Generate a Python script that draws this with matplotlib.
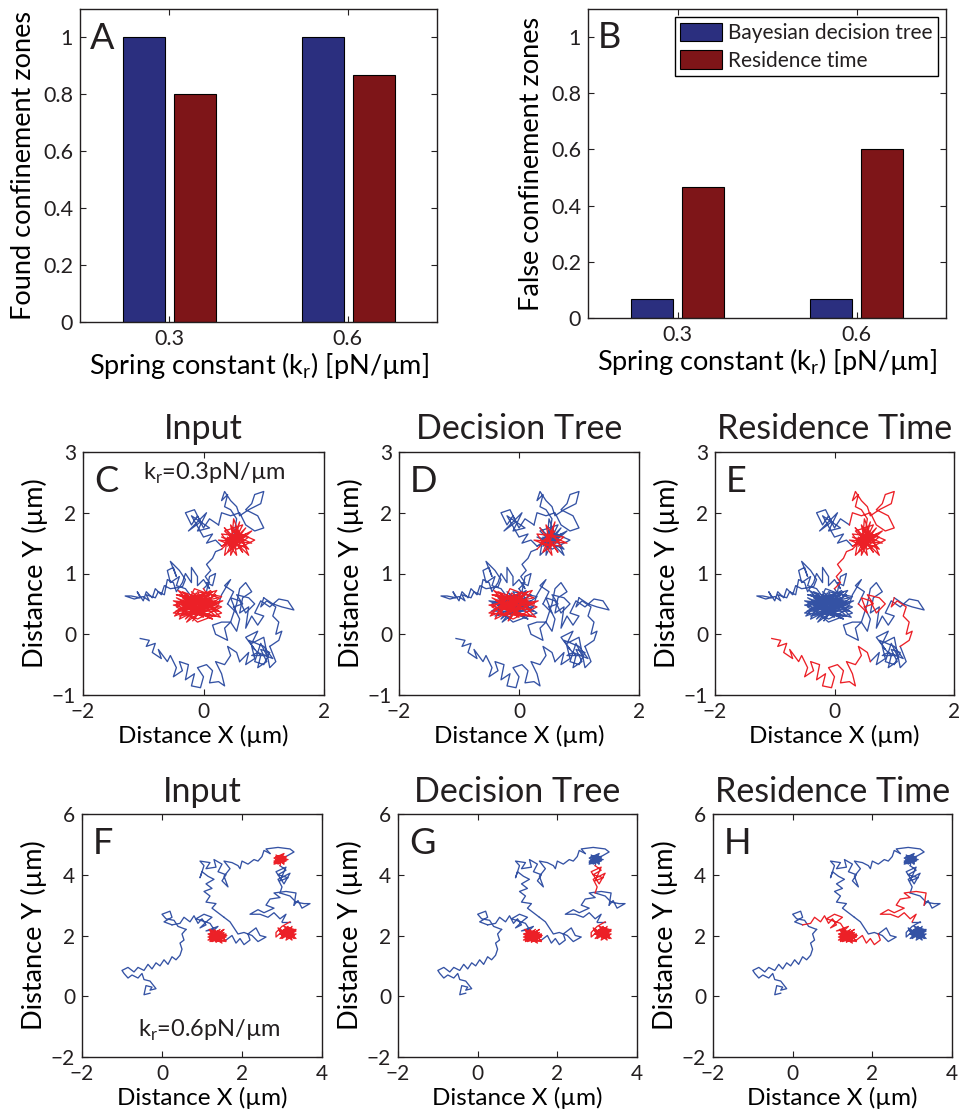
import matplotlib
matplotlib.use("Agg")
import matplotlib.pyplot as plt
import numpy as np

plt.rcParams['font.family'] = ['Lato', 'DejaVu Sans']
plt.rcParams['mathtext.fontset'] = 'custom'
plt.rcParams['mathtext.rm'] = 'Lato'
plt.rcParams['text.color'] = '#231f20'
plt.rcParams['axes.unicode_minus'] = True

# ---- bar data (panels A, B)
spring_labels = ["0.3", "0.6"]
found_tree = [1.0, 1.0]
found_resid = [0.8, 0.867]
false_tree = [0.067, 0.067]
false_resid = [0.467, 0.6]
bar_yticks = [0, 0.2, 0.4, 0.6, 0.8, 1.0]
bar_yticklabels = ["0", "0.2", "0.4", "0.6", "0.8", "1"]

# ---- trajectory, k_r = 0.3 pN/um (panels C, D, E)
w3_bottom = [(-1.05,-0.07),(-0.9,-0.1),(-0.95,-0.2),(-0.8,-0.15),(-0.85,-0.3),(-0.7,-0.4),
             (-0.75,-0.25),(-0.6,-0.45),(-0.55,-0.35),(-0.45,-0.55),(-0.5,-0.7),(-0.35,-0.6),
             (-0.4,-0.45),(-0.25,-0.5),(-0.3,-0.75),(-0.15,-0.65),(-0.2,-0.85),(-0.05,-0.88),
             (0.0,-0.7),(-0.1,-0.55),(0.05,-0.5),(0.15,-0.6),(0.1,-0.8),(0.25,-0.78),(0.35,-0.85),
             (0.3,-0.65),(0.2,-0.45),(0.35,-0.5),(0.45,-0.35),(0.4,-0.2),(0.55,-0.3),(0.6,-0.45)]
w3_lowright = [(0.75,-0.3),(0.7,-0.5),(0.85,-0.4),(0.8,-0.2),(0.95,-0.35),(0.9,-0.55),(1.05,-0.45),
               (0.95,-0.25),(1.1,-0.3),(1.0,-0.5),(0.85,-0.45),(0.95,-0.15),(1.05,-0.35),(0.8,-0.35),
               (0.9,-0.3),(1.15,-0.4),(1.0,-0.2),(0.75,-0.1),(0.85,-0.25),(0.7,-0.05),(0.9,0.05),
               (0.8,-0.15),(1.0,-0.05),(1.1,-0.55),(1.2,-0.45),(1.1,-0.2)]
w3_climb = [(1.25,-0.1),(1.3,0.05),(1.2,0.0),(1.25,0.2),(1.15,0.3),(1.2,0.45),(1.05,0.55),
            (0.95,0.45),(1.0,0.6)]
w3_right1 = [(1.15,0.5),(1.3,0.45),(1.5,0.4),(1.4,0.55),(1.25,0.58),(1.1,0.45),(0.95,0.55),
             (0.85,0.35),(1.0,0.3),(0.9,0.15),(0.8,0.3),(0.7,0.1),(0.75,0.45),(0.6,0.35),(0.65,0.6),
             (0.8,0.7),(0.7,0.85),(0.6,0.75),(0.55,0.5),(0.45,0.2),(0.35,0.1),(0.4,-0.1),(0.2,0.0),
             (0.15,0.15),(0.3,0.2),(0.45,0.2),(0.55,0.05),(0.6,0.25),(0.5,0.45)]
w3_right2 = [(0.65,0.5),(0.55,0.65),(0.75,0.6),(0.85,0.5),(0.7,0.35),(0.6,0.55),(0.45,0.6),
             (0.55,0.35),(0.4,0.5)]
w3_right3 = [(0.5,0.7),(0.35,0.8),(0.45,0.9),(0.3,0.65),(0.25,0.5)]
w3_mid1 = [(-0.1,0.6),(0.2,0.4),(-0.2,0.45),(0.1,0.65),(-0.3,0.55),(0.0,0.35),(-0.4,0.65),
           (0.15,0.55),(-0.25,0.3),(0.05,0.7),(-0.45,0.45),(-0.1,0.25),(0.3,0.45),(-0.35,0.7),
           (0.0,0.45),(-0.2,0.65),(0.2,0.3),(-0.5,0.35),(-0.05,0.6),(-0.3,0.4),(0.1,0.5),
           (-0.4,0.25),(-0.15,0.75),(0.25,0.6),(-0.25,0.5),(0.05,0.3),(-0.45,0.6),(-0.1,0.45),
           (0.15,0.7),(-0.35,0.35),(-0.48,0.3),(-0.2,0.6),(-0.42,0.72),(0.0,0.28),(-0.3,0.45),
           (0.32,0.55),(-0.05,0.38),(-0.38,0.55),(0.22,0.72),(-0.18,0.22),(0.08,0.58),
           (-0.5,0.48),(0.28,0.28),(-0.12,0.68),(-0.32,0.32),(0.18,0.48),(-0.45,0.65),
           (0.02,0.52),(-0.15,0.55)]
w3_tail = [(-0.3,0.75),(-0.45,0.8),(-0.4,0.95),(-0.55,0.85),(-0.6,1.05),(-0.5,1.1),(-0.45,0.95),
           (-0.55,1.2),(-0.4,1.05),(-0.3,0.9),(-0.35,0.78),(-0.55,0.75),(-0.65,0.8),(-0.7,0.65),
           (-0.8,0.75),(-0.85,0.6),(-0.95,0.7),(-1.0,0.55),(-1.1,0.7),(-1.05,0.6),(-1.2,0.63),
           (-1.3,0.63),(-1.15,0.58),(-1.0,0.62),(-0.9,0.55),(-0.95,0.65),(-0.8,0.6),(-0.75,0.7),
           (-0.65,0.65),(-0.6,0.9),(-0.5,0.85),(-0.45,0.7),(-0.35,0.85),(-0.3,1.0),(-0.2,0.85),
           (-0.2,1.1),(-0.1,0.95),(-0.1,0.8),(0.0,0.9),(0.1,0.75),(0.05,0.85),(0.15,0.8),
           (0.2,1.0),(0.1,0.95),(0.05,0.7)]
w3_mid2 = [(-0.3,0.5),(0.2,0.55),(-0.4,0.3),(0.1,0.4),(-0.2,0.7),(0.3,0.35),(-0.1,0.2),
           (-0.45,0.5),(0.0,0.65),(-0.3,0.25),(0.2,0.65),(-0.2,0.4),(0.15,0.25),(-0.5,0.55),
           (-0.05,0.5),(-0.35,0.6),(0.1,0.3),(-0.15,0.35),(0.25,0.45),(-0.25,0.6),(0.0,0.55),
           (-0.4,0.4),(0.05,0.45),(-0.1,0.7),(0.3,0.62),(-0.28,0.2),(0.12,0.72),(-0.46,0.38),
           (0.24,0.38),(-0.08,0.62),(-0.36,0.48),(0.1,0.6),(0.0,0.75)]
w3_connect = [(0.1,0.85),(0.03,0.95),(0.12,1.05),(0.05,1.15),(0.15,1.25),(0.2,1.36),(0.3,1.4)]
w3_top1 = [(0.6,1.7),(0.35,1.5),(0.7,1.45),(0.45,1.8),(0.55,1.3),(0.3,1.65),(0.75,1.6),
           (0.4,1.35),(0.6,1.85),(0.5,1.45),(0.25,1.55),(0.8,1.5),(0.45,1.65),(0.65,1.35),
           (0.35,1.75)]
w3_top2 = [(0.55,1.55),(0.7,1.75),(0.4,1.45),(0.6,1.6),(0.45,1.3),(0.5,1.9),(0.65,1.5),
           (0.3,1.6),(0.75,1.4),(0.5,1.7),(0.85,1.55),(0.55,1.4),(0.4,1.6),(0.35,1.3),
           (0.7,1.65),(0.3,1.45),(0.8,1.7),(0.45,1.4),(0.65,1.8),(0.35,1.7),(0.75,1.3),
           (0.55,1.75),(0.4,1.55),(0.7,1.55),(0.6,1.5),(0.5,1.6)]
w3_excursion = [(0.55,1.9),(0.45,2.05),(0.35,2.1),(0.4,2.3),(0.3,2.2),(0.35,2.35),(0.45,2.2),
                (0.55,2.1),(0.6,1.95),(0.75,2.05),(0.95,2.15),(1.0,2.35),(0.85,2.3),(0.8,2.15),
                (0.7,2.05),(0.9,1.95),(1.0,1.75),(0.85,1.7),(0.7,1.8),(0.6,2.0),(0.45,1.95),
                (0.3,2.0),(0.25,1.8)]
w3_upleft = [(0.1,1.9),(0.0,1.75),(-0.1,1.95),(-0.2,1.8),(-0.3,2.0),(-0.15,2.05),(-0.05,1.85),
             (-0.25,1.7),(0.05,2.0),(-0.1,1.7),(0.1,1.75),(-0.2,1.95),(0.0,1.6),(0.15,1.65),
             (0.05,1.5),(0.2,1.55),(0.3,1.45)]

walk03 = [("bottom", w3_bottom), ("lowright", w3_lowright), ("climb", w3_climb),
          ("right1", w3_right1), ("right2", w3_right2), ("right3", w3_right3),
          ("mid1", w3_mid1), ("tail", w3_tail), ("mid2", w3_mid2), ("connect", w3_connect),
          ("top1", w3_top1), ("top2", w3_top2), ("excursion", w3_excursion), ("upleft", w3_upleft)]
red_C = ["mid1", "mid2", "top1", "top2"]
red_D = ["mid1", "top1"]
red_E = ["bottom", "climb", "right2", "connect", "top1", "top2", "excursion"]

# ---- trajectory, k_r = 0.6 pN/um (panels F, G, H)
w6_start = [(-0.3,0.1),(-0.45,0.05),(-0.4,0.35),(-0.25,0.3),(-0.3,0.2),(-0.15,0.25),(-0.3,0.5),
            (-0.45,0.55),(-0.5,0.75),(-0.6,0.6),(-0.75,0.7),(-0.85,0.6),(-0.95,0.75),(-1.0,0.85),
            (-0.85,0.95),(-0.7,0.8),(-0.6,0.95),(-0.45,0.85),(-0.35,1.05),(-0.25,0.9),(-0.15,1.1),
            (-0.05,1.0),(0.05,1.2),(0.15,1.05),(0.25,1.3),(0.35,1.2),(0.45,1.35),(0.5,1.55),
            (0.45,1.75),(0.55,1.85),(0.5,2.05),(0.6,2.2)]
w6_blob1 = [(0.4,2.3),(0.3,2.5),(0.1,2.55),(0.0,2.7),(0.2,2.8),(0.25,2.6),(0.05,2.45),(0.25,2.35)]
w6_blob2 = [(0.45,2.4),(0.55,2.6),(0.7,2.45),(0.8,2.65),(0.9,2.4),(1.0,2.55),(1.1,2.35),
            (0.95,2.25),(1.15,2.5),(1.25,2.6),(1.05,2.7),(0.85,2.55),(1.2,2.4),(1.3,2.2),
            (1.1,2.15),(1.4,2.3),(1.2,2.05)]
w6_zone1 = [(1.5,1.85),(1.15,1.95),(1.55,2.1),(1.25,1.8),(1.6,1.95),(1.2,2.15),(1.45,1.8),
            (1.3,2.2),(1.55,1.9),(1.15,1.85),(1.5,2.15),(1.35,1.78),(1.6,2.05),(1.25,2.0),
            (1.45,2.2),(1.2,1.8),(1.5,2.0),(1.35,1.9),(1.3,1.95),(1.55,2.2),(1.2,1.9),
            (1.6,1.8),(1.4,2.15),(1.15,2.05),(1.5,1.75),(1.3,2.1),(1.62,2.0),(1.25,1.85),
            (1.45,2.05),(1.18,2.2),(1.55,1.95),(1.35,1.8),(1.6,1.85)]
w6_path1 = [(1.75,2.0),(1.85,1.75),(1.95,1.9),(2.05,1.7),(2.2,1.85),(2.15,2.05)]
w6_path2 = [(2.35,2.25),(2.45,2.0),(2.6,1.95),(2.4,1.8),(2.25,2.0),(2.05,2.1),(1.9,2.05),
            (1.8,2.25),(1.7,2.45),(1.55,2.6)]
w6_column = [(1.4,2.75),(1.25,2.9),(1.35,3.05),(1.1,3.1),(1.2,3.3),(1.05,3.45),(1.25,3.55),
             (1.1,3.7),(1.3,3.85),(1.15,3.95),(1.0,4.1),(0.95,3.9),(1.05,4.3),(0.95,4.45),
             (1.2,4.4),(1.1,4.2),(1.35,4.25),(1.3,4.5),(1.5,4.35),(1.4,4.1),(1.6,4.0),(1.5,3.8),
             (1.65,3.6),(1.55,3.95),(1.7,4.2),(1.55,4.45),(1.75,4.4),(1.9,4.3),(1.95,4.2),
             (2.0,4.45),(2.15,4.35),(2.3,4.5),(2.4,4.45),(2.5,4.6),(2.55,4.8),(2.7,4.7)]
w6_loop = [(2.6,4.85),(2.9,4.9),(3.2,4.85),(3.3,4.75),(3.1,4.6)]
w6_zone2 = [(2.85,4.6),(3.05,4.4),(2.8,4.45),(3.1,4.55),(2.9,4.35),(3.05,4.7),(2.8,4.55),
            (3.0,4.4),(3.1,4.6),(2.85,4.5),(3.0,4.65),(2.9,4.4),(3.05,4.5),(2.95,4.6),
            (2.8,4.35),(3.1,4.45),(2.85,4.65),(3.05,4.35),(2.9,4.55),(3.15,4.5),(2.8,4.4),
            (3.0,4.55),(2.95,4.3)]
w6_below = [(3.1,4.15),(2.9,4.0),(3.15,3.9),(2.95,3.8),(3.1,4.25),(2.85,4.1),(3.05,3.7),
            (3.2,4.05),(2.9,3.85),(3.0,3.6),(2.95,3.4)]
w6_right1 = [(3.2,3.3),(3.35,3.1),(3.55,3.05),(3.7,3.05),(3.5,2.9),(3.4,3.15),(3.3,3.0)]
w6_right2 = [(3.35,3.4),(3.1,3.45),(2.8,3.4),(2.95,3.25),(2.7,3.2),(2.6,3.0),(2.8,2.9),
             (2.55,2.75),(2.4,2.85),(2.2,2.7),(2.45,2.7),(2.65,2.6),(2.8,2.75),(2.95,2.55),
             (3.1,2.7),(3.0,2.45)]
w6_right3 = [(3.2,2.45)]
w6_zone3 = [(3.0,2.3),(2.85,2.1),(2.85,1.95),(3.1,2.25),(3.3,2.0),(2.95,2.15),(3.35,2.2),
            (3.0,1.9),(3.25,2.3),(3.1,1.85),(3.35,2.05),(2.95,2.05),(3.2,1.95),(3.05,2.2),
            (3.3,1.9),(3.15,2.15),(3.0,2.0),(2.9,2.25),(3.35,1.9),(3.05,2.3),(3.3,2.2),
            (2.95,1.9),(3.2,2.25),(3.1,1.95),(3.35,2.15),(3.0,2.1),(3.25,1.85),(3.15,2.3),
            (3.05,2.05),(3.25,2.1),(3.1,2.0)]

walk06 = [("start", w6_start), ("blob1", w6_blob1), ("blob2", w6_blob2), ("zone1", w6_zone1),
          ("path1", w6_path1), ("path2", w6_path2), ("column", w6_column), ("loop", w6_loop),
          ("zone2", w6_zone2), ("below", w6_below), ("right1", w6_right1),
          ("right2", w6_right2), ("right3", w6_right3), ("zone3", w6_zone3)]
red_F = ["zone1", "zone2", "zone3"]
red_G = ["zone1", "below", "zone3"]
red_H = ["blob2", "zone1", "path1", "right2"]

BAR_BLUE = '#2b2f7f'
BAR_RED = '#7e1518'
WALK_BLUE = '#3452a4'
WALK_RED = '#ec2027'

W, H = 959, 1111
fig = plt.figure(figsize=(W / 100, H / 100), dpi=100)


def box(l, t, r, b):
    return [l / W, 1 - b / H, (r - l) / W, (b - t) / H]


def style(ax, size):
    ax.tick_params(direction='in', top=True, right=True, length=4, width=0.8,
                   labelsize=size, pad=5, colors='#231f20')
    for s in ax.spines.values():
        s.set_linewidth(1.0)
        s.set_color('#231f20')


def bars(ax, tree, resid, ylabel, letter):
    x = np.arange(1, len(spring_labels) + 1)
    ax.bar(x - 0.14, tree, 0.235, color=BAR_BLUE, edgecolor='black', linewidth=0.8,
           label='Bayesian decision tree')
    ax.bar(x + 0.145, resid, 0.235, color=BAR_RED, edgecolor='black', linewidth=0.8,
           label='Residence time')
    ax.set_xlim(0.5, 2.5)
    ax.set_ylim(0, 1.1)
    ax.set_xticks(x)
    ax.set_xticklabels(spring_labels)
    ax.set_yticks(bar_yticks)
    ax.set_yticklabels(bar_yticklabels)
    style(ax, 15.5)
    ax.set_ylabel(ylabel, fontsize=19.5, labelpad=5)
    ax.set_xlabel(r'Spring constant (k$_\mathregular{r}$) [pN/µm]', fontsize=19.5, labelpad=1)
    ax.text(0.028, 0.96, letter, transform=ax.transAxes, fontsize=26, va='top', ha='left')


def walk(ax, segs, red, lims, ticks, title, letter):
    prev = None
    for name, pts in segs:
        if prev is not None:
            pts = [prev] + pts
        xs = [p[0] for p in pts]
        ys = [p[1] for p in pts]
        if name in red:
            ax.plot(xs, ys, color=WALK_RED, lw=0.95, zorder=3)
        else:
            ax.plot(xs, ys, color=WALK_BLUE, lw=0.95, zorder=2)
        prev = pts[-1]
    ax.set_xlim(lims[0])
    ax.set_ylim(lims[1])
    ax.set_xticks(ticks[0])
    ax.set_yticks(ticks[1])
    style(ax, 15)
    ax.set_xlabel('Distance X (µm)', fontsize=17.5, labelpad=2)
    ax.set_ylabel('Distance Y (µm)', fontsize=19.5, labelpad=3)
    ax.set_title(title, fontsize=24.5, pad=9)
    ax.text(0.045, 0.945, letter, transform=ax.transAxes, fontsize=26, va='top', ha='left')


axA = fig.add_axes(box(80, 9, 437, 322))
bars(axA, found_tree, found_resid, 'Found confinement zones', 'A')

axB = fig.add_axes(box(588, 9, 946, 318))
bars(axB, false_tree, false_resid, 'False confinement zones', 'B')
axB.legend(loc='upper right', fontsize=15, frameon=True, fancybox=False, edgecolor='black',
           framealpha=1, handlelength=2.0, handleheight=1.0, handletextpad=0.3,
           borderpad=0.25, labelspacing=0.35, borderaxespad=0.4).get_frame().set_linewidth(1.0)

lim03 = ((-2, 2), (-1, 3))
tick03 = ([-2, 0, 2], [-1, 0, 1, 2, 3])
lim06 = ((-2, 4), (-2, 6))
tick06 = ([-2, 0, 2, 4], [-2, 0, 2, 4, 6])

axC = fig.add_axes(box(83, 452, 324, 695))
walk(axC, walk03, red_C, lim03, tick03, 'Input', 'C')
axC.text(-1.0, 2.54, r'k$_\mathregular{r}$=0.3pN/µm', fontsize=17)
axD = fig.add_axes(box(399, 452, 639, 695))
walk(axD, walk03, red_D, lim03, tick03, 'Decision Tree', 'D')
axE = fig.add_axes(box(715, 452, 954, 695))
walk(axE, walk03, red_E, lim03, tick03, 'Residence Time', 'E')

axF = fig.add_axes(box(82, 814, 322, 1057))
walk(axF, walk06, red_F, lim06, tick06, 'Input', 'F')
axF.text(-0.6, -1.34, r'k$_\mathregular{r}$=0.6pN/µm', fontsize=17)
axG = fig.add_axes(box(398, 814, 637, 1057))
walk(axG, walk06, red_G, lim06, tick06, 'Decision Tree', 'G')
axH = fig.add_axes(box(713, 814, 952, 1057))
walk(axH, walk06, red_H, lim06, tick06, 'Residence Time', 'H')

fig.savefig('out.png', dpi=100)
